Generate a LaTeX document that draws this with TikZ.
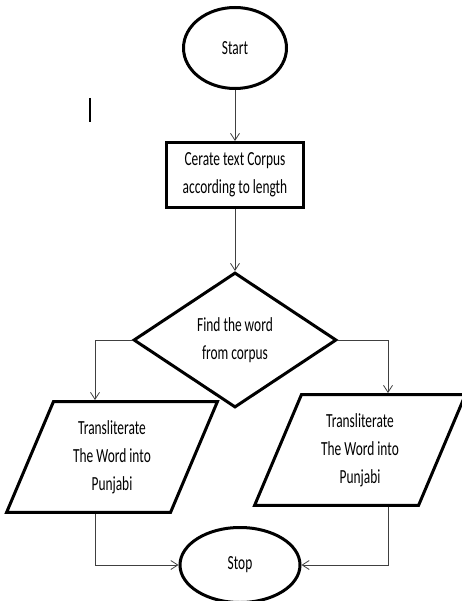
\documentclass[tikz,border=0pt]{standalone}
\usepackage{fontspec}
\setmainfont{Carlito}[FakeStretch=0.67]
\usetikzlibrary{shapes.geometric,arrows.meta,calc}
\tikzset{
    terminal/.style = {draw, ellipse, line width=3pt, inner sep=0pt},
    block/.style = {draw, rectangle, line width=3pt,
        minimum height=65pt,
        minimum width=137pt, align=center},
    decision/.style = {draw, diamond, line width=3pt, inner sep=0pt,
        minimum width=203pt, minimum height=135pt, align=center},
    io/.style = {draw, trapezium, trapezium left angle=67, trapezium right angle=113,
        line width=3pt, inner sep=0pt, minimum width=211pt, minimum height=97pt, align=center},
    arrow/.style = {draw, black!75, line width=0.8pt, -{Straight Barb[length=7pt,width=9pt]}}
}

\begin{document}
\begin{tikzpicture}[x=1pt, y=-1pt, node distance=120pt,
    every node/.style={font=\fontsize{20}{28}\selectfont}]
        \clip (0,0) rectangle (462,601);
        \node [terminal, minimum width=103pt, minimum height=81pt] (start) at (235,48) {Start};
        \node [block, below of=start, node distance=127pt] (corpus) {Cerate text Corpus\\according to length};
        \node [decision, below of=corpus, node distance=165pt] (find) {Find the word\\from corpus};
        \node [io] (tleft) at (112,457) {Transliterate\\The Word into\\Punjabi};
        \node [io] (tright) at (360,450) {Transliterate\\The Word into\\Punjabi};
        \node [terminal, minimum width=120pt, minimum height=75pt] (stop) at (240,565) {Stop};
        \draw [arrow] (start) -- (corpus);
        \draw [arrow] (corpus) -- (find);
        \draw [arrow] (find.west) -| ($(tleft.north)+(-17,0)$);
        \draw [arrow] (find.east) -| ($(tright.north)+(28,0)$);
        \draw [arrow] ($(tleft.south)+(-17,0)$) |- (stop.west);
        \draw [arrow] ($(tright.south)+(28,0)$) |- (stop.east);
        \draw [line width=1.8pt] (90,98) -- (90,122);
    \end{tikzpicture}
\end{document}
